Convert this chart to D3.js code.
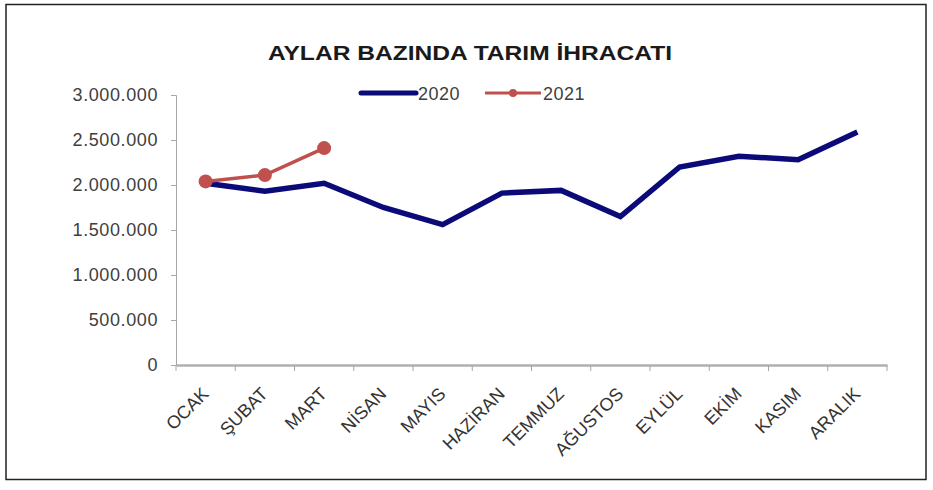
<!DOCTYPE html>
<html><head><meta charset="utf-8">
<script src="https://cdn.jsdelivr.net/npm/d3@7"></script>
<style>body{margin:0;background:#fff;} svg{display:block;}</style>
</head><body>
<svg id="c" width="933" height="490"></svg>
<script>
const months = ["OCAK","ŞUBAT","MART","NİSAN","MAYIS","HAZİRAN","TEMMUZ","AĞUSTOS","EYLÜL","EKİM","KASIM","ARALIK"];
const values2020 = [2020000,1930000,2020000,1750000,1560000,1910000,1940000,1650000,2200000,2320000,2280000,2590000];
const values2021 = [2040000,2110000,2410000];
const yTicks = [0,500000,1000000,1500000,2000000,2500000,3000000];
const title = "AYLAR BAZINDA TARIM İHRACATI";

const FONT = "Liberation Sans, Arial, sans-serif";
const svg = d3.select("#c");
svg.append("rect").attr("x",6).attr("y",4.5).attr("width",920).attr("height",475)
  .attr("fill","#fff").attr("stroke","#222").attr("stroke-width",1.5);

const x = d3.scaleBand().domain(months).range([176,887]);
const y = d3.scaleLinear().domain([0,3000000]).range([365,95]);
const fmt = v => d3.format(",")(v).replace(/,/g,".");

// axes
const yAxis = svg.append("g").attr("transform","translate(176,0)")
  .call(d3.axisLeft(y).tickValues(yTicks).tickFormat(fmt).tickSize(5).tickPadding(13));
yAxis.select(".domain").attr("stroke","#a6a6a6");
yAxis.selectAll(".tick line").attr("stroke","#a6a6a6");
yAxis.selectAll("text").attr("font-family",FONT).attr("font-size",18).attr("letter-spacing","0.6px").attr("fill","#404040");

const xAxis = svg.append("g").attr("transform","translate(0,365)")
  .call(d3.axisBottom(x).tickSize(0).tickFormat(d=>d));
xAxis.select(".domain").attr("stroke","#b0b0b0").attr("stroke-width",2.5);
xAxis.selectAll("text").attr("font-family",FONT).attr("font-size",18).attr("fill","#333")
  .attr("text-anchor","end").attr("dx","0").attr("dy","0").attr("y",0)
  .attr("transform", "translate(4,30) rotate(-45)");
// tick marks between categories
const bounds = months.map(m=>x(m)).concat([x.range()[1]]);
svg.append("g").selectAll("line").data(bounds).join("line")
  .attr("x1",d=>d).attr("x2",d=>d).attr("y1",365).attr("y2",371).attr("stroke","#a6a6a6");

// lines
const line = d3.line().x((d,i)=>x(months[i])+x.bandwidth()/2).y(d=>y(d));
svg.append("path").datum(values2020).attr("d",line).attr("fill","none")
  .attr("stroke","#0a0a78").attr("stroke-width",5.5).attr("stroke-linejoin","miter");
svg.append("path").datum(values2021).attr("d",line).attr("fill","none")
  .attr("stroke","#c0504d").attr("stroke-width",3.5);
svg.append("g").selectAll("circle").data(values2021).join("circle")
  .attr("cx",(d,i)=>x(months[i])+x.bandwidth()/2).attr("cy",d=>y(d)).attr("r",7)
  .attr("fill","#c0504d");

// title
svg.append("text").attr("x",470).attr("y",60).attr("text-anchor","middle")
  .attr("font-family",FONT).attr("font-weight","bold")
  .attr("font-size",21).attr("fill","#1a1a1a")
  .attr("textLength",404).attr("lengthAdjust","spacingAndGlyphs").text(title);

// legend
const lg = svg.append("g");
lg.append("line").attr("x1",361).attr("x2",416).attr("y1",93).attr("y2",93).attr("stroke","#0a0a78").attr("stroke-width",5).attr("stroke-linecap","round");
lg.append("text").attr("x",418).attr("y",100).attr("font-family",FONT).attr("font-size",18).attr("letter-spacing","0.5px").attr("fill","#404040").text("2020");
lg.append("line").attr("x1",485).attr("x2",541).attr("y1",93).attr("y2",93).attr("stroke","#c0504d").attr("stroke-width",3);
lg.append("circle").attr("cx",513).attr("cy",93).attr("r",4).attr("fill","#c0504d");
lg.append("text").attr("x",543).attr("y",100).attr("font-family",FONT).attr("font-size",18).attr("letter-spacing","0.5px").attr("fill","#404040").text("2021");
</script>
</body></html>
